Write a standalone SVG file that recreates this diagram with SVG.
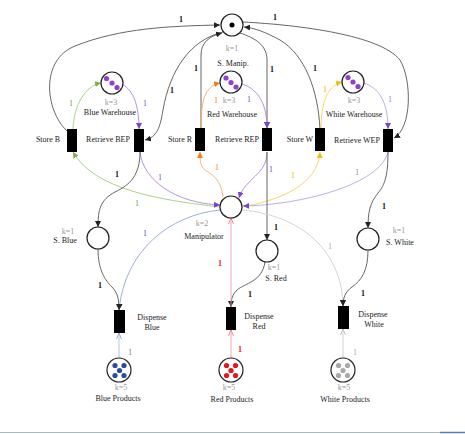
<svg xmlns="http://www.w3.org/2000/svg" width="465" height="434" viewBox="0 0 465 434">
<style>
text{font-family:"Liberation Serif","Times New Roman",serif;font-size:8px;fill:#222;text-anchor:middle}
.k{fill:#999}
.w{font-weight:bold;fill:#111}
.p{fill:#fff;stroke:#222;stroke-width:1.2}
.t{fill:#000}
.a{fill:none;stroke-width:0.9}
.bk{stroke:#555;marker-end:url(#mk)}
.gr{stroke:#a3cc78;marker-end:url(#mg)}
.pu{stroke:#a988dc;marker-end:url(#mp)}
.la{stroke:#b3a8dc;marker-end:url(#mp)}
.or{stroke:#f3ab6a;marker-end:url(#mo)}
.ye{stroke:#f5d35a;marker-end:url(#my)}
.bl{stroke:#93a6cf;marker-end:url(#mk)}
.gy{stroke:#d0d0d0;marker-end:url(#mk)}
.lb{stroke:#a9c3e4;marker-end:url(#cb)}
.pk{stroke:#f29aa8;marker-end:url(#cp)}
.lg{stroke:#cccccc;marker-end:url(#cg)}
</style>
<defs>
<marker id="mk" viewBox="0 0 6 6" refX="6" refY="3" markerWidth="6" markerHeight="6" markerUnits="userSpaceOnUse" orient="auto"><path d="M0,0 L6,3 L0,6 z" fill="#222"/></marker>
<marker id="mg" viewBox="0 0 6 6" refX="6" refY="3" markerWidth="6" markerHeight="6" markerUnits="userSpaceOnUse" orient="auto"><path d="M0,0 L6,3 L0,6 z" fill="#7fb04a"/></marker>
<marker id="mp" viewBox="0 0 6 6" refX="6" refY="3" markerWidth="6" markerHeight="6" markerUnits="userSpaceOnUse" orient="auto"><path d="M0,0 L6,3 L0,6 z" fill="#7b44d0"/></marker>
<marker id="mo" viewBox="0 0 6 6" refX="6" refY="3" markerWidth="6" markerHeight="6" markerUnits="userSpaceOnUse" orient="auto"><path d="M0,0 L6,3 L0,6 z" fill="#f07c20"/></marker>
<marker id="my" viewBox="0 0 6 6" refX="6" refY="3" markerWidth="6" markerHeight="6" markerUnits="userSpaceOnUse" orient="auto"><path d="M0,0 L6,3 L0,6 z" fill="#efbf10"/></marker>
<marker id="cb" viewBox="0 0 6 6" refX="6" refY="3" markerWidth="6" markerHeight="6" markerUnits="userSpaceOnUse" orient="auto"><path d="M0,0.5 L6,3 L0,5.5" fill="none" stroke="#8aaad8" stroke-width="0.9"/></marker>
<marker id="cp" viewBox="0 0 6 6" refX="6" refY="3" markerWidth="6" markerHeight="6" markerUnits="userSpaceOnUse" orient="auto"><path d="M0,0.5 L6,3 L0,5.5" fill="none" stroke="#ee8090" stroke-width="0.9"/></marker>
<marker id="cg" viewBox="0 0 6 6" refX="6" refY="3" markerWidth="6" markerHeight="6" markerUnits="userSpaceOnUse" orient="auto"><path d="M0,0.5 L6,3 L0,5.5" fill="none" stroke="#bbbbbb" stroke-width="0.9"/></marker>
</defs>
<rect width="465" height="434" fill="#fff"/>

<g id="connectors">
<path class="a bk" d="M67,131 C45,110 40,60 75,46 C120,28 170,26 220,25"/>
<path class="a bk" d="M223,32 C190,40 170,70 163,110 C160,128 157,137 145,140"/>
<path class="a bk" d="M201,128 L201,55 C201,42 210,36 222,33"/>
<path class="a bk" d="M240,33 C255,38 267,45 267,60 L267,128"/>
<path class="a bk" d="M320,129 C318,90 305,55 280,40 C265,32 255,28 244,27"/>
<path class="a bk" d="M243,22 C300,25 380,35 400,60 C412,80 412,128 394,138"/>
<path class="a gr" d="M73,129 C74,105 85,86 101,83"/>
<path class="a pu" d="M123,85 C133,90 139,105 139,129"/>
<path class="a or" d="M201,128 C201,100 205,86 220,83"/>
<path class="a pu" d="M242,84 C255,88 267,100 267,128"/>
<path class="a ye" d="M321,129 C321,103 327,86 342,82"/>
<path class="a la" d="M364,83 C378,88 388,100 388,129"/>
<path class="a gr" d="M220,207 C160,200 95,190 73,152"/>
<path class="a pu" d="M140,152 C143,180 175,203 220,205"/>
<path class="a or" d="M223,197 C221,180 213,175 205,170 C200,166 200,160 200,152"/>
<path class="a pu" d="M267,152 C267,175 245,178 239,198"/>
<path class="a ye" d="M242,207 C280,200 318,185 320,152"/>
<path class="a la" d="M388,152 C380,185 300,205 243,206"/>
<path class="a bk" d="M140,152 C140,175 130,185 115,192 C100,200 98,210 98,227"/>
<path class="a bk" d="M267,152 L267,240"/>
<path class="a bk" d="M388,152 C388,175 385,185 378,193 C370,203 368,212 368,228"/>
<path class="a bk" d="M98,249 C98,270 105,280 112,287 C118,293 119,300 119,310"/>
<path class="a bl" d="M220,210 C170,215 125,250 119,310"/>
<path class="a lb" d="M119,358 L119,333"/>
<path class="a bk" d="M265,262 C262,282 245,283 237,290 C232,295 231,300 231,307"/>
<path class="a pk" d="M231,307 L231,218"/>
<path class="a pk" d="M231,358 L231,330"/>
<path class="a gy" d="M242,210 C300,215 342,250 343,306"/>
<path class="a bk" d="M368,250 C368,270 362,280 352,287 C345,292 343,298 343,306"/>
<path class="a lg" d="M343,358 L343,329"/>
<g>
<text class="w" x="181" y="22">1</text>
<text class="w" x="172" y="93">1</text>
<text class="w" x="196" y="71">1</text>
<text class="w" x="272" y="72">1</text>
<text class="w" x="275" y="20">1</text>
<text class="w" x="315" y="71">1</text>
<text x="71" y="106" fill="#6a9a40" style="fill:#6a9a40">1</text>
<text x="145" y="106" style="fill:#7b44d0">1</text>
<text x="216" y="103" style="fill:#f08020">1</text>
<text x="249" y="102" style="fill:#7b44d0">1</text>
<text x="325" y="92" style="fill:#e8b800">1</text>
<text x="390" y="102" style="fill:#8f80cc">1</text>
<text x="137" y="206" style="fill:#6a9a40">1</text>
<text x="160" y="180" style="fill:#7b44d0">1</text>
<text x="217" y="170" style="fill:#f08020">1</text>
<text x="271" y="172" style="fill:#7b44d0">1</text>
<text x="293" y="178" style="fill:#e8b800">1</text>
<text x="357" y="175" style="fill:#8f80cc">1</text>
<text class="w" x="117" y="177">1</text>
<text class="w" x="276" y="230">1</text>
<text class="w" x="384" y="209">1</text>
<text class="w" x="100" y="288">1</text>
<text x="145" y="236" style="fill:#3d56a6">1</text>
<text x="130" y="355" style="fill:#5a78b8">1</text>
<text class="w" x="250" y="297">1</text>
<text x="220" y="266" style="fill:#e02030;font-weight:bold">1</text>
<text x="240" y="352" style="fill:#e02030;font-weight:bold">1</text>
<text x="330" y="249" style="fill:#aaa">1</text>
<text class="w" x="363" y="296">1</text>
<text x="355" y="355" style="fill:#aaa">1</text>
</g>
</g>

<g id="s-manip">
<circle class="p" cx="232" cy="25" r="11"/>
<circle class="t" cx="232" cy="25" r="2.5"/>
<text class="k" x="232" y="51">k=1</text>
<text x="233" y="66">S. Manip.</text>
</g>
<g id="blue-warehouse">
<circle class="p" cx="112" cy="83" r="11"/>
<g fill="#9040d0"><circle cx="106.5" cy="78.5" r="2.6"/><circle cx="112" cy="83" r="2.6"/><circle cx="117" cy="87.5" r="2.6"/></g>
<text class="k" x="111" y="105">k=3</text>
<text x="110" y="115">Blue Warehouse</text>
</g>
<g id="red-warehouse">
<circle class="p" cx="231" cy="82" r="11"/>
<g fill="#9040d0"><circle cx="226" cy="78" r="2.6"/><circle cx="231" cy="82.5" r="2.6"/><circle cx="236" cy="87" r="2.6"/></g>
<text class="k" x="229" y="103">k=3</text>
<text x="232" y="117">Red Warehouse</text>
</g>
<g id="white-warehouse">
<circle class="p" cx="353" cy="82" r="11"/>
<g fill="#9040d0"><circle cx="348" cy="77.5" r="2.6"/><circle cx="353" cy="82" r="2.6"/><circle cx="358" cy="86.5" r="2.6"/></g>
<text class="k" x="354" y="103">k=3</text>
<text x="354" y="117">White Warehouse</text>
</g>
<g id="store-b"><rect x="67" y="129" width="10" height="23"/><text x="48" y="142">Store B</text></g>
<g id="retrieve-bep"><rect x="134" y="129" width="10" height="23"/><text x="108" y="142">Retrieve BEP</text></g>
<g id="store-r"><rect x="195" y="128" width="10" height="23"/><text x="180" y="142">Store R</text></g>
<g id="retrieve-rep"><rect x="262" y="128" width="10" height="23"/><text x="237" y="142">Retrieve REP</text></g>
<g id="store-w"><rect x="315" y="128" width="10" height="23"/><text x="300" y="142">Store W</text></g>
<g id="retrieve-wep"><rect x="383" y="129" width="10" height="23"/><text x="357" y="143">Retrieve WEP</text></g>
<g id="manipulator">
<circle class="p" cx="231" cy="207" r="11"/>
<text class="k" x="202" y="226">k=2</text>
<text x="204" y="239">Manipulator</text>
</g>
<g id="s-blue">
<circle class="p" cx="98" cy="238" r="11"/>
<text class="k" x="68" y="234">k=1</text>
<text x="65" y="243">S. Blue</text>
</g>
<g id="s-red">
<circle class="p" cx="267" cy="251" r="11"/>
<text class="k" x="274" y="270">k=1</text>
<text x="276" y="281">S. Red</text>
</g>
<g id="s-white">
<circle class="p" cx="368" cy="239" r="11"/>
<text class="k" x="399" y="233">k=1</text>
<text x="400" y="245">S. White</text>
</g>
<g id="dispense-blue"><rect x="114" y="310" width="11" height="23"/><text x="152" y="320">Dispense</text><text x="152" y="330">Blue</text></g>
<g id="dispense-red"><rect x="226" y="307" width="10" height="23"/><text x="259" y="319">Dispense</text><text x="259" y="329">Red</text></g>
<g id="dispense-white"><rect x="338" y="306" width="11" height="23"/><text x="373" y="317">Dispense</text><text x="374" y="327">White</text></g>
<g id="blue-products">
<circle class="p" cx="119" cy="370" r="12"/>
<g fill="#2a4c9c"><circle cx="115" cy="365.5" r="2.6"/><circle cx="124" cy="365.5" r="2.6"/><circle cx="119.5" cy="370.5" r="2.6"/><circle cx="115" cy="375.5" r="2.6"/><circle cx="124" cy="375.5" r="2.6"/></g>
<text class="k" x="121" y="390">k=5</text>
<text x="118" y="401">Blue Products</text>
</g>
<g id="red-products">
<circle class="p" cx="231" cy="370" r="12"/>
<g fill="#e8141c"><circle cx="226.5" cy="365.5" r="2.6"/><circle cx="235.5" cy="365.5" r="2.6"/><circle cx="231" cy="370.5" r="2.6"/><circle cx="226.5" cy="375.5" r="2.6"/><circle cx="235.5" cy="375.5" r="2.6"/></g>
<text class="k" x="229" y="390">k=5</text>
<text x="232" y="402">Red Products</text>
</g>
<g id="white-products">
<circle class="p" cx="343" cy="370" r="12"/>
<g fill="#a8a8a8"><circle cx="338.5" cy="365.5" r="2.6"/><circle cx="347.5" cy="365.5" r="2.6"/><circle cx="343" cy="370.5" r="2.6"/><circle cx="338.5" cy="375.5" r="2.6"/><circle cx="347.5" cy="375.5" r="2.6"/></g>
<text class="k" x="344" y="390">k=5</text>
<text x="345" y="402">White Products</text>
</g>
<line x1="0" y1="432.5" x2="465" y2="432.5" stroke="#a9b8c8" stroke-width="1"/>
<line x1="440" y1="432.5" x2="465" y2="432.5" stroke="#5b7fa6" stroke-width="1.5"/>
</svg>
